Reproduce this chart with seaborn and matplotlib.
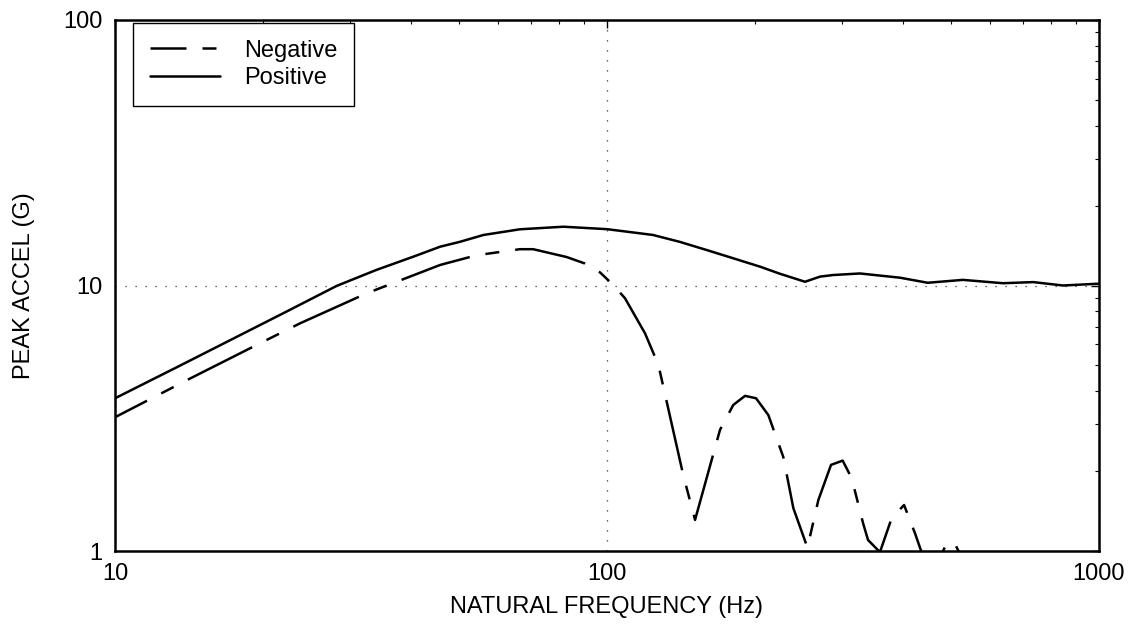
import matplotlib
matplotlib.use("Agg")
import matplotlib.pyplot as plt
from matplotlib.ticker import FuncFormatter, NullFormatter, LogLocator
import numpy as np
import pandas as pd
import seaborn as sns

# ---- data ----
neg_freq = [10, 14.2, 19.4, 23.8, 32.5, 45.8, 54.3, 66.5, 70.8, 82.8, 90.2, 96.8, 103,
            108.8, 119.5, 127.2, 142.9, 151, 169.7, 180.6, 190.8, 200.9, 212.8, 228.2,
            239.2, 255.5, 268.9, 285.3, 301.3, 314.3, 331.6, 339.3, 358.7, 379, 401.6,
            422.7, 434.2, 458, 478, 488.5, 499.6, 509.7, 530, 580]
neg_accel = [3.19, 4.46, 5.97, 7.21, 9.35, 11.95, 13.0, 13.7, 13.7, 12.8, 12.1, 11.2, 10.04,
             8.95, 6.6, 5.02, 1.93, 1.31, 2.86, 3.55, 3.84, 3.76, 3.25, 2.26,
             1.45, 1.03, 1.556, 2.11, 2.19, 1.88, 1.27, 1.10, 0.99, 1.33, 1.49,
             1.166, 1.01, 0.85, 0.97, 1.053, 1.084, 1.062, 0.92, 0.75]

pos_freq = [10, 13.35, 22.3, 28.2, 34.0, 40.4, 45.8, 50.2, 56.1, 66.5, 81.5, 100, 124,
            140.6, 159.5, 180.6, 204.8, 224.7, 252.6, 271, 288, 326.7, 394, 448.6, 529,
            638, 735, 845, 1000]
pos_accel = [3.76, 4.92, 7.97, 9.96, 11.45, 12.84, 14.0, 14.6, 15.5, 16.28, 16.65, 16.3, 15.5,
             14.6, 13.6, 12.66, 11.77, 11.07, 10.33, 10.8, 10.95, 11.1, 10.7, 10.24, 10.5,
             10.2, 10.3, 10.0, 10.16]

series_names = ["Negative", "Positive"]
x_label = "NATURAL FREQUENCY (Hz)"
y_label = "PEAK ACCEL (G)"

# ---- style ----
sns.set_style("white")
plt.rcParams["font.family"] = ["Liberation Sans", "DejaVu Sans"]
plt.rcParams["text.color"] = "black"
plt.rcParams["axes.labelcolor"] = "black"
plt.rcParams["xtick.color"] = "black"
plt.rcParams["ytick.color"] = "black"
FS = 17

fig = plt.figure(figsize=(11.30, 6.39), dpi=100)
ax = fig.add_axes([115 / 1130, 1 - 551 / 639, 984 / 1130, 531 / 639])

neg_df = pd.DataFrame({"freq": neg_freq, "accel": neg_accel})
pos_df = pd.DataFrame({"freq": pos_freq, "accel": pos_accel})

LW = 1.8
sns.lineplot(data=neg_df, x="freq", y="accel", ax=ax, color="black", linewidth=LW,
             linestyle=(14.4, (28.8, 6.4, 5.6, 6.4)), estimator=None, sort=False,
             label=series_names[0])
sns.lineplot(data=pos_df, x="freq", y="accel", ax=ax, color="black", linewidth=LW,
             linestyle="-", estimator=None, sort=False, label=series_names[1])

ax.set_xscale("log")
ax.set_yscale("log")
ax.set_xlim(10, 1000)
ax.set_ylim(1, 100)

fmt = FuncFormatter(lambda v, p: f"{v:g}")
ax.xaxis.set_major_locator(LogLocator(base=10))
ax.yaxis.set_major_locator(LogLocator(base=10))
ax.xaxis.set_minor_locator(LogLocator(base=10, subs=np.arange(2, 10)))
ax.yaxis.set_minor_locator(LogLocator(base=10, subs=np.arange(2, 10)))
ax.xaxis.set_major_formatter(fmt)
ax.yaxis.set_major_formatter(fmt)
ax.xaxis.set_minor_formatter(NullFormatter())
ax.yaxis.set_minor_formatter(NullFormatter())

ax.grid(which="major", linestyle=(0, (1, 7)), linewidth=0.9, color="#333333")
ax.grid(which="minor", visible=False)

ax.tick_params(which="both", direction="in", top=True, right=True, colors="black")
ax.tick_params(which="major", length=6, width=1.0, labelsize=FS, pad=9)
ax.tick_params(which="minor", length=3, width=0.8)

for s in ax.spines.values():
    s.set_visible(True)
    s.set_color("black")
    s.set_linewidth(1.8)

ax.set_xlabel(x_label, fontsize=FS, color="black")
ax.set_ylabel(y_label, fontsize=FS, color="black")
ax.xaxis.set_label_coords(0.5, -0.085)
ax.yaxis.set_label_coords(-0.081, 0.5)

handles, labels = ax.get_legend_handles_labels()
leg = ax.legend(handles, labels, loc="upper left", bbox_to_anchor=(0.0183, 0.9944),
                borderaxespad=0, fancybox=False, frameon=True, edgecolor="black",
                framealpha=1, fontsize=FS, handlelength=3.0, handletextpad=1.0,
                borderpad=0.7, labelspacing=0.25)
leg.get_frame().set_linewidth(1.0)
for t in leg.get_texts():
    t.set_color("black")

fig.savefig("out.png", dpi=100)
